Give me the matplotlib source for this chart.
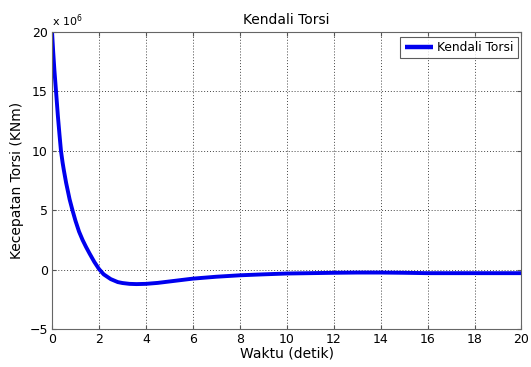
import matplotlib
matplotlib.use("Agg")
import matplotlib.pyplot as plt

# Data (values in units of 1e6 KNm)
waktu = [0.0, 0.05, 0.1, 0.17, 0.25, 0.32, 0.38, 0.45, 0.5, 0.6, 0.75, 0.87, 1.0, 1.15, 1.3,
         1.45, 1.6, 1.8, 2.0, 2.2, 2.5, 2.8, 3.0, 3.3, 3.6, 4.0, 4.5, 5.0, 5.5, 6.0, 7.0, 8.0,
         9.0, 10.0, 11.0, 12.0, 13.0, 14.0, 15.0, 16.0, 17.0, 18.0, 19.0, 20.0]
torsi = [20.0, 18.3, 16.8, 15.0, 12.9, 11.3, 10.0, 9.0, 8.4, 7.3, 5.9, 5.0, 4.1, 3.2, 2.5,
         1.9, 1.35, 0.65, 0.05, -0.4, -0.8, -1.05, -1.13, -1.2, -1.22, -1.2, -1.12, -1.0,
         -0.88, -0.76, -0.6, -0.48, -0.4, -0.33, -0.3, -0.27, -0.25, -0.25, -0.27, -0.3,
         -0.3, -0.3, -0.3, -0.3]

xticks = list(range(0, 21, 2))
yticks = [-5, 0, 5, 10, 15, 20]

plt.rcParams['font.family'] = ['DejaVu Sans']

fig = plt.figure(figsize=(5.31, 3.67), dpi=100)
ax = fig.add_axes([0.098, 0.1035, 0.884, 0.8095])

ax.plot(waktu, torsi, color='#0000ee', linewidth=2.8, label='Kendali Torsi')

ax.set_xlim(0, 20)
ax.set_ylim(-5, 20)
ax.set_xticks(xticks)
ax.set_yticks(yticks)
ax.tick_params(direction='in', top=True, right=True, labelsize=9, length=3,
               color='#555555', pad=3)
for s in ax.spines.values():
    s.set_color('#666666')
    s.set_linewidth(0.8)

ax.grid(True, linestyle=(0, (1, 2)), color='#444444', linewidth=0.7)

ax.set_title('Kendali Torsi', fontsize=10, pad=6)
ax.set_xlabel('Waktu (detik)', fontsize=10, labelpad=0)
ax.set_ylabel('Kecepatan Torsi (KNm)', fontsize=10, labelpad=4)
ax.text(0.0, 1.01, r'x 10$^6$', transform=ax.transAxes, fontsize=8, ha='left', va='bottom')

leg = ax.legend(loc='upper right', fontsize=8.8, frameon=True, fancybox=False,
                handlelength=2.3, borderpad=0.35, handletextpad=0.35,
                borderaxespad=0.0, bbox_to_anchor=(0.992, 0.984))
leg.get_frame().set_edgecolor('#333333')
leg.get_frame().set_linewidth(0.8)
for h in leg.get_lines():
    h.set_linewidth(3.2)
    h.set_solid_capstyle('butt')

fig.savefig('out.png', dpi=100)
